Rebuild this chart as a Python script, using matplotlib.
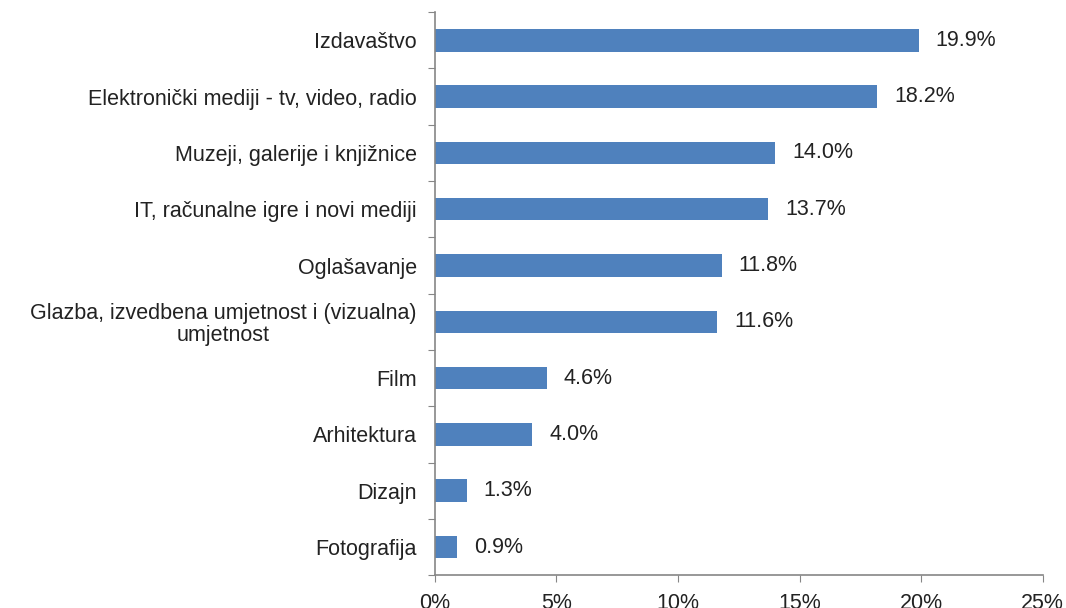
import matplotlib.pyplot as plt
import numpy as np

plt.rcParams["font.family"] = ["Liberation Sans", "DejaVu Sans"]

# Categories from top to bottom
categories = [
    "Izdavaštvo",
    "Elektronički mediji - tv, video, radio",
    "Muzeji, galerije i knjižnice",
    "IT, računalne igre i novi mediji",
    "Oglašavanje",
    "Glazba, izvedbena umjetnost i (vizualna)\numjetnost",
    "Film",
    "Arhitektura",
    "Dizajn",
    "Fotografija",
]
shares = [19.9, 18.2, 14.0, 13.7, 11.8, 11.6, 4.6, 4.0, 1.3, 0.9]
x_ticks = [0, 5, 10, 15, 20, 25]

bar_color = "#4f81bd"
axis_color = "#868686"
text_color = "#222222"
fs = 15.5

fig = plt.figure(figsize=(10.66, 6.08), dpi=100)
ax = fig.add_axes([0.408, 0.054, 0.570, 0.926])

y = np.arange(len(categories))
ax.barh(y, shares, height=0.4, color=bar_color)

# value labels
for yi, v in zip(y, shares):
    ax.text(v + 0.7, yi, f"{v:.1f}%", va="center", ha="left", fontsize=fs, color=text_color)

ax.set_ylim(len(categories) - 0.5, -0.5)
ax.set_xlim(0, 25)

# ticks at category boundaries, labels at centres
ax.set_yticks(np.arange(len(categories) + 1) - 0.5)
ax.set_yticklabels([])
ax.set_yticks(y, minor=True)
ax.set_yticklabels(categories, minor=True, fontsize=fs, color=text_color)
for lbl in ax.get_yticklabels(minor=True):
    lbl.set_multialignment("center")
    lbl.set_linespacing(1.05)
ax.tick_params(axis="y", which="minor", length=0, pad=13)
ax.tick_params(axis="y", which="major", length=5, color=axis_color, direction="out")

ax.set_xticks(x_ticks)
ax.set_xticklabels([f"{t}%" for t in x_ticks], fontsize=fs, color=text_color)
ax.tick_params(axis="x", length=5, color=axis_color, direction="out", pad=8)

for side in ["top", "right"]:
    ax.spines[side].set_visible(False)
for side in ["left", "bottom"]:
    ax.spines[side].set_color(axis_color)
    ax.spines[side].set_linewidth(1.2)

fig.savefig("out.png", dpi=100)
